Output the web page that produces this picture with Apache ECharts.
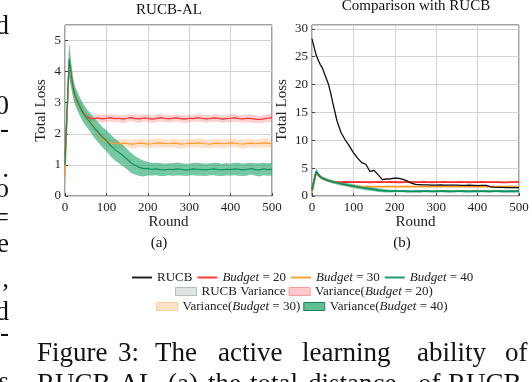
<!DOCTYPE html>
<html>
<head>
<meta charset="utf-8">
<script src="https://cdn.jsdelivr.net/npm/echarts@6/dist/echarts.min.js"></script>
<style>
  html, body { margin: 0; padding: 0; background: #fff; }
  #chart { width: 532px; height: 382px; }
</style>
</head>
<body>
<div id="chart"></div>
<script>
// rounds (denser near the spike)
const rounds = [0,10,15,20,25,30,35,40,45,50,60,70,80,90,100,110,120,130,140,150,160,170,180,190,200,210,220,230,240,250,260,270,280,290,300,310,320,330,340,350,360,370,380,390,400,410,420,430,440,450,460,470,480,490,500];

// Budget = 20 (red)
const budget20 = [1.3,4.25,3.85,3.45,3.2,3.05,2.9,2.78,2.67,2.58,
  2.5,2.49,2.51,2.48,2.5,2.52,2.49,2.5,2.47,2.5,
  2.52,2.49,2.48,2.51,2.5,2.47,2.49,2.52,2.5,2.48,
  2.5,2.51,2.49,2.47,2.5,2.49,2.52,2.5,2.48,2.49,
  2.51,2.5,2.47,2.49,2.5,2.52,2.49,2.48,2.5,2.49,
  2.47,2.46,2.48,2.5,2.52];
const spread20 = [0.3,0.5,0.35,0.25,0.2,0.18,0.16,0.15,0.14,0.13,
  0.12,0.11,0.12,0.13,0.11,0.12,0.12,0.11,0.13,0.12,
  0.11,0.12,0.13,0.12,0.11,0.12,0.12,0.13,0.11,0.12,
  0.12,0.11,0.12,0.13,0.12,0.11,0.12,0.12,0.13,0.11,
  0.12,0.12,0.11,0.12,0.13,0.12,0.11,0.12,0.12,0.13,
  0.12,0.11,0.12,0.13,0.12];

// Budget = 30 (orange)
const budget30 = [0.6,4.3,3.85,3.45,3.2,3.05,2.9,2.78,2.66,2.56,
  2.4,2.22,2.02,1.84,1.74,1.71,1.69,1.68,1.7,1.69,
  1.67,1.68,1.7,1.69,1.67,1.68,1.7,1.71,1.69,1.68,
  1.7,1.69,1.67,1.68,1.7,1.69,1.71,1.7,1.68,1.67,
  1.69,1.7,1.68,1.69,1.71,1.7,1.68,1.67,1.69,1.7,
  1.68,1.69,1.71,1.7,1.68];
const spread30 = [0.3,0.5,0.35,0.25,0.2,0.18,0.17,0.16,0.15,0.15,
  0.14,0.14,0.15,0.14,0.13,0.14,0.14,0.15,0.14,0.13,
  0.14,0.15,0.14,0.14,0.13,0.14,0.15,0.14,0.14,0.13,
  0.14,0.14,0.15,0.14,0.13,0.14,0.14,0.15,0.14,0.14,
  0.13,0.14,0.15,0.14,0.14,0.13,0.14,0.15,0.14,0.14,
  0.13,0.14,0.14,0.15,0.14];

// Budget = 40 (green)
const budget40 = [1.0,4.4,3.9,3.45,3.2,3.05,2.9,2.77,2.65,2.55,
  2.38,2.2,2.05,1.9,1.78,1.63,1.5,1.4,1.3,1.18,
  1.06,0.98,0.92,0.88,0.88,0.86,0.87,0.85,0.84,0.86,
  0.85,0.87,0.86,0.84,0.85,0.87,0.86,0.85,0.84,0.86,
  0.87,0.85,0.84,0.86,0.85,0.87,0.86,0.84,0.86,0.88,
  0.85,0.84,0.87,0.85,0.86];
const spread40 = [0.4,0.55,0.4,0.32,0.3,0.3,0.3,0.3,0.3,0.3,
  0.3,0.32,0.32,0.33,0.34,0.35,0.35,0.35,0.34,0.33,
  0.32,0.3,0.28,0.25,0.22,0.2,0.2,0.21,0.2,0.19,
  0.2,0.21,0.2,0.2,0.19,0.2,0.21,0.2,0.2,0.19,
  0.2,0.21,0.2,0.2,0.19,0.2,0.21,0.2,0.2,0.19,
  0.2,0.21,0.2,0.2,0.2];

// RUCB baseline (black)
const rucb = [28.2,25.3,24.4,23.6,23.0,22.0,21.0,20.0,18.5,16.8,
  13.6,11.4,10.1,9.0,7.8,6.8,6.0,5.7,4.4,4.6,
  3.8,2.95,3.05,3.1,3.2,3.15,3.0,2.7,2.3,2.1,
  2.05,2.0,2.0,1.95,1.95,2.0,1.95,1.95,1.95,1.95,
  1.9,1.9,1.95,1.9,1.85,1.9,1.9,1.7,1.6,1.55,
  1.55,1.5,1.5,1.5,1.5];
const spreadRucb = [0.3,0.3,0.25,0.25,0.2,0.2,0.2,0.2,0.2,0.2,
  0.2,0.2,0.2,0.2,0.2,0.18,0.18,0.18,0.18,0.18,
  0.15,0.15,0.15,0.15,0.15,0.15,0.15,0.15,0.15,0.15,
  0.12,0.12,0.12,0.12,0.12,0.12,0.12,0.12,0.12,0.12,
  0.12,0.12,0.12,0.12,0.12,0.12,0.12,0.12,0.12,0.12,
  0.12,0.12,0.12,0.12,0.12];

// tick labels
const xTicks = [0,100,200,300,400,500];
const yTicksLeft = [0,1,2,3,4,5];
const yTicksRight = [0,5,10,15,20,25,30];

const FONT = '"Liberation Serif", "DejaVu Serif", serif';

const chart = echarts.init(document.getElementById('chart'));

const pairs = (vals) => vals.map((v, i) => [rounds[i], v]);

// variance band: one polygon (upper edge, then lower edge back) through the axes
function band(mean, spread, name, fill, gi) {
  return {
    type: 'custom', name, xAxisIndex: gi, yAxisIndex: gi, silent: true, clip: true,
    color: fill,
    data: rounds.map((r, i) => [r, mean[i] - spread[i], mean[i] + spread[i]]),
    encode: { x: 0, y: [1, 2] },
    renderItem: (params, api) => {
      if (params.dataIndex !== 0) return null;
      const up = rounds.map((r, i) => api.coord([r, mean[i] + spread[i]]));
      const lo = rounds.map((r, i) => api.coord([r, mean[i] - spread[i]])).reverse();
      return { type: 'polygon', shape: { points: up.concat(lo) }, style: { fill } };
    }
  };
}

function line(mean, name, color, gi, width) {
  return {
    type: 'line', xAxisIndex: gi, yAxisIndex: gi, name,
    data: pairs(mean), symbol: 'none', color,
    lineStyle: { color, width }, silent: true
  };
}

const series = [];
[0, 1].forEach(gi => {
  const w = gi === 0 ? 1.2 : 1.8;
  series.push(band(budget20, spread20, 'Variance(Budget = 20)', 'rgba(255,100,100,0.3)', gi));
  series.push(line(budget20, 'Budget = 20', '#ff2a2a', gi, w));
  series.push(band(budget30, spread30, 'Variance(Budget = 30)', 'rgba(255,170,100,0.35)', gi));
  series.push(line(budget30, 'Budget = 30', '#ff9c30', gi, w));
  series.push(band(budget40, spread40, 'Variance(Budget = 40)', 'rgba(45,170,115,0.65)', gi));
  series.push(line(budget40, 'Budget = 40', '#0f9160', gi, w));
});
series.push(band(rucb, spreadRucb, 'RUCB Variance', 'rgba(150,160,160,0.25)', 1));
series.push(line(rucb, 'RUCB', '#111111', 1, 1.3));

const axisText = { fontFamily: FONT, fontSize: 13, color: '#222' };

function xAxis(gi) {
  return {
    type: 'value', gridIndex: gi, min: 0, max: 500, interval: 100,
    name: 'Round', nameLocation: 'middle', nameGap: 19,
    nameTextStyle: { fontFamily: FONT, fontSize: 15, color: '#222' },
    axisLine: { show: false },
    axisTick: { inside: true, length: 3, lineStyle: { color: '#444' } },
    axisLabel: Object.assign({ margin: 5, formatter: v => xTicks.includes(v) ? String(v) : '' }, axisText),
    splitLine: { show: true, lineStyle: { color: '#d2d2d2', width: 1 } }
  };
}

function yAxis(gi, max, interval, ticks, gap) {
  return {
    type: 'value', gridIndex: gi, min: 0, max, interval,
    name: 'Total Loss', nameLocation: 'middle', nameGap: gap, nameRotate: 90,
    nameTextStyle: { fontFamily: FONT, fontSize: 15, color: '#222' },
    axisLine: { show: false },
    axisTick: { inside: true, length: 3, lineStyle: { color: '#444' } },
    axisLabel: Object.assign({ margin: 4, showMaxLabel: false, formatter: v => ticks.includes(v) ? String(v) : '' }, axisText),
    splitLine: { show: true, lineStyle: { color: '#d2d2d2', width: 1 } }
  };
}

const budgetFmt = name => name.replace('Budget', '{i|Budget}');
const legendText = {
  fontFamily: FONT, fontSize: 13, color: '#222',
  rich: { i: { fontFamily: FONT, fontSize: 13, fontStyle: 'italic', color: '#222' } }
};

// page text around the figure
const graphics = [];
function addText(str, x, y, size, align) {
  graphics.push({
    type: 'text', x, y, silent: true,
    style: { text: str, fontFamily: FONT, fontSize: size, fill: '#111', align: align || 'center', verticalAlign: 'middle' }
  });
}
addText('RUCB-AL', 169, 10, 15);
addText('Comparison with RUCB', 416, 6, 15);
addText('(a)', 159, 243, 15);
addText('(b)', 402, 243, 15);

// caption (justified, so words are placed one by one)
const cap1 = ['Figure', '3:', 'The', 'active', 'learning', 'ability', 'of'];
const cap1X = [37, 118, 155, 218, 302, 417, 505];
const cap2 = ['RUCB-AL.', '(a)', 'the', 'total', 'distance', 'of', 'RUCB-'];
const cap2X = [37, 168, 208, 250, 308, 418, 448];
cap1.forEach((w, i) => addText(w, cap1X[i], 354, 27, 'left'));
cap2.forEach((w, i) => addText(w, cap2X[i], 385, 27, 'left'));

// line ends of the neighbouring text column, cut by the left edge
const marginChars = ['d', '0', '-', '.', 'o', '=', 'e', ',', 'd', '-', 's'];
const marginY = [27, 107, 130, 170, 190, 219, 245, 280, 313, 334, 383];
marginChars.forEach((c, i) => addText(c, 9, marginY[i], 27, 'right'));

chart.setOption({
  animation: false,
  backgroundColor: '#fff',
  grid: [
    { left: 65, top: 25, width: 207, height: 171, show: true, borderColor: '#444', borderWidth: 1, backgroundColor: 'transparent' },
    { left: 312, top: 25, width: 207, height: 171, show: true, borderColor: '#444', borderWidth: 1, backgroundColor: 'transparent' }
  ],
  xAxis: [xAxis(0), xAxis(1)],
  yAxis: [
    yAxis(0, 5.5, 1, yTicksLeft, 16),
    yAxis(1, 30.7, 5, yTicksRight, 22)
  ],
  legend: [
    {
      left: 127, top: 266, itemWidth: 20, itemHeight: 2, itemGap: 5, selectedMode: false,
      formatter: budgetFmt, textStyle: legendText,
      data: [
        { name: 'RUCB', icon: 'rect', itemStyle: { color: '#222' } },
        { name: 'Budget = 20', icon: 'rect', itemStyle: { color: '#ff3b3b' } },
        { name: 'Budget = 30', icon: 'rect', itemStyle: { color: '#ffa040' } },
        { name: 'Budget = 40', icon: 'rect', itemStyle: { color: '#249a6c' } }
      ]
    },
    {
      left: 170, top: 280, itemWidth: 21, itemHeight: 8, itemGap: 3, selectedMode: false,
      formatter: budgetFmt, textStyle: legendText,
      data: [
        { name: 'RUCB Variance', icon: 'rect', itemStyle: { color: '#dfe3e3', borderColor: '#b5bdbd', borderWidth: 1 } },
        { name: 'Variance(Budget = 20)', icon: 'rect', itemStyle: { color: '#ffc9cc', borderColor: '#ff9a9a', borderWidth: 1 } }
      ]
    },
    {
      left: 151, top: 295, itemWidth: 21, itemHeight: 8, itemGap: 3, selectedMode: false,
      formatter: budgetFmt, textStyle: legendText,
      data: [
        { name: 'Variance(Budget = 30)', icon: 'rect', itemStyle: { color: '#ffe2c6', borderColor: '#ffcfa3', borderWidth: 1 } },
        { name: 'Variance(Budget = 40)', icon: 'rect', itemStyle: { color: '#5fbf95', borderColor: '#17855a', borderWidth: 1 } }
      ]
    }
  ],
  graphic: graphics,
  series
});
</script>
</body>
</html>
